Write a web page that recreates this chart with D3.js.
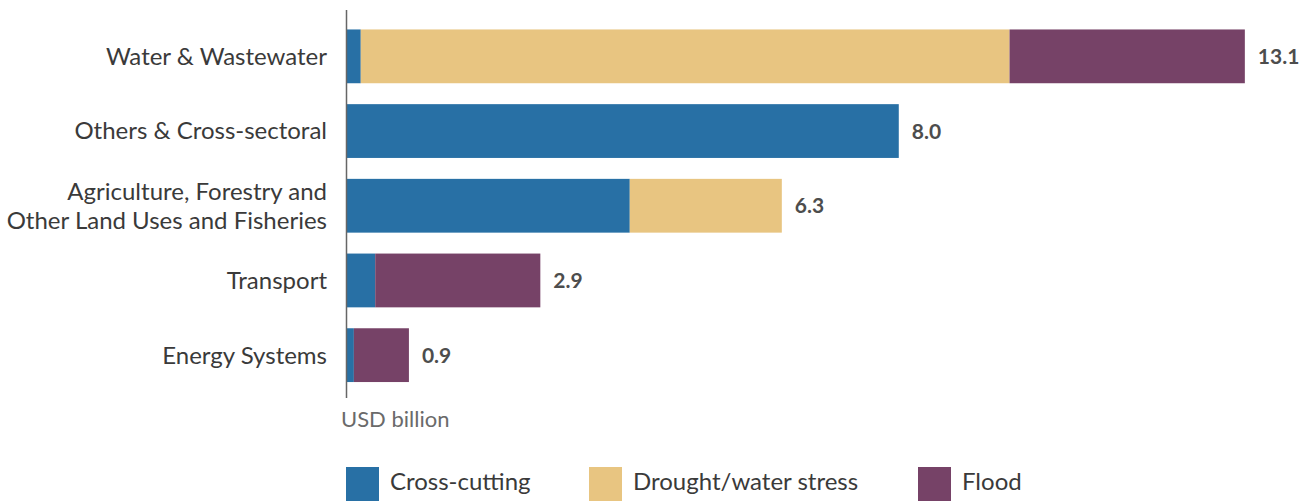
<!DOCTYPE html>
<html>
<head>
<meta charset="utf-8">
<script src="https://cdn.jsdelivr.net/npm/d3@7"></script>
<style>
  body { margin: 0; background: #fff; }
  svg { font-family: Lato, "Open Sans", sans-serif; }
</style>
</head>
<body>
<div id="chart"></div>
<script>
// Chart data
const categories = [
  'Water & Wastewater',
  'Others & Cross-sectoral',
  'Agriculture, Forestry and|Other Land Uses and Fisheries',
  'Transport',
  'Energy Systems'
];
const seriesNames = ['Cross-cutting', 'Drought/water stress', 'Flood'];
const crossCutting = [0.20, 8.02, 4.11, 0.41, 0.10];
const drought = [9.43, 0, 2.21, 0, 0];
const flood = [3.42, 0, 0, 2.40, 0.80];
const totalLabels = ['13.1', '8.0', '6.3', '2.9', '0.9'];
const colors = ['#2870a5', '#e8c581', '#764267'];

const width = 1304, height = 501;
const x0 = 347;

const svg = d3.select('#chart').append('svg')
  .attr('width', width)
  .attr('height', height);

const x = d3.scaleLinear().domain([0, 1]).range([x0, x0 + 68.8]);
const y = d3.scaleBand()
  .domain(categories)
  .range([19, 19 + 74.7 * 5])
  .paddingInner(0.28)
  .paddingOuter(0.14);

const rows = categories.map((c, i) => ({
  cat: c,
  vals: [crossCutting[i], drought[i], flood[i]],
  label: totalLabels[i]
}));

const stack = d3.stack().keys([0, 1, 2]).value((d, k) => d.vals[k]);
const layers = stack(rows);

const g = svg.append('g');
layers.forEach((layer, k) => {
  g.selectAll(null)
    .data(layer.filter(d => d[1] > d[0]))
    .enter()
    .append('rect')
    .attr('x', d => x(d[0]))
    .attr('y', d => y(d.data.cat))
    .attr('width', d => x(d[1]) - x(d[0]))
    .attr('height', y.bandwidth())
    .attr('fill', colors[k]);
});

// value labels
g.selectAll('.val')
  .data(rows)
  .enter()
  .append('text')
  .attr('x', d => x(d3.sum(d.vals)) + 13)
  .attr('y', d => y(d.cat) + y.bandwidth() / 2)
  .attr('dy', '0.36em')
  .attr('font-size', 21)
  .attr('font-weight', 'bold')
  .attr('fill', '#4d4d4d')
  .text(d => d.label);

// category labels
rows.forEach(d => {
  const lines = d.cat.split('|');
  const cy = y(d.cat) + y.bandwidth() / 2;
  const t = svg.append('text')
    .attr('text-anchor', 'end')
    .attr('font-size', 24)
    .attr('fill', '#3a3a3a');
  lines.forEach((ln, j) => {
    t.append('tspan')
      .attr('x', 327)
      .attr('y', cy + (j - (lines.length - 1) / 2) * 29)
      .attr('dy', '0.35em')
      .text(ln);
  });
});

// axis line
svg.append('line')
  .attr('x1', 346.5).attr('x2', 346.5)
  .attr('y1', 10).attr('y2', 398)
  .attr('stroke', '#666')
  .attr('stroke-width', 1.5);

svg.append('text')
  .attr('x', 341)
  .attr('y', 427)
  .attr('font-size', 22)
  .attr('fill', '#6a6a6a')
  .text('USD billion');

// legend
const legendX = [346, 589, 918];
seriesNames.forEach((s, k) => {
  svg.append('rect')
    .attr('x', legendX[k])
    .attr('y', 467)
    .attr('width', 33)
    .attr('height', 34)
    .attr('fill', colors[k]);
  svg.append('text')
    .attr('x', legendX[k] + 44)
    .attr('y', 490)
    .attr('font-size', 24)
    .attr('fill', '#3a3a3a')
    .text(s);
});
</script>
</body>
</html>
